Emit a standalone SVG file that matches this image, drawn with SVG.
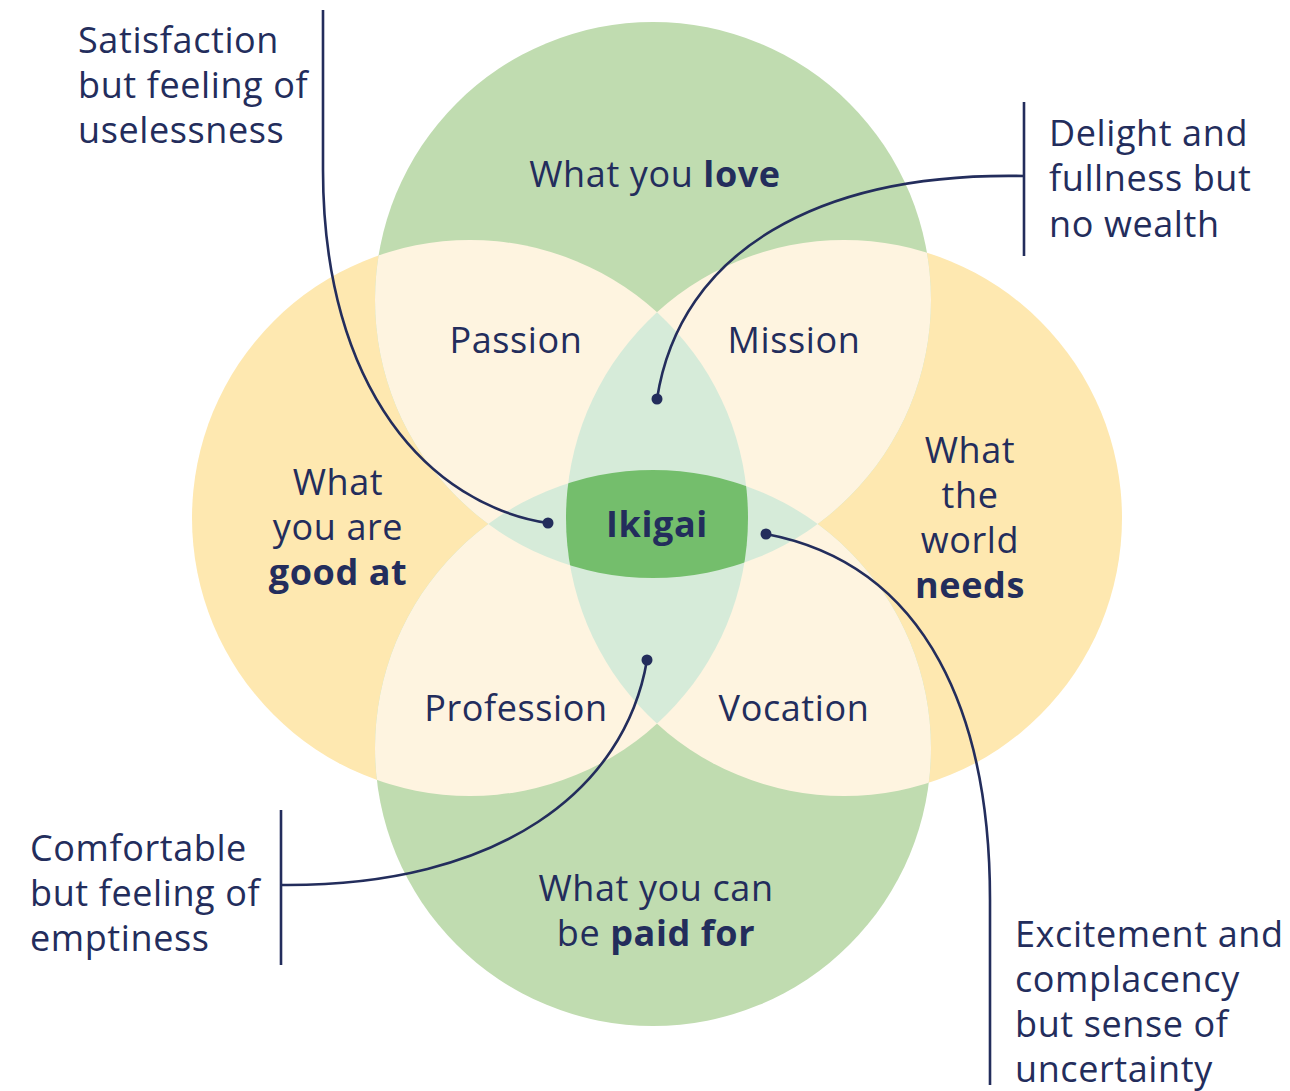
<svg xmlns="http://www.w3.org/2000/svg" width="1290" height="1091" viewBox="0 0 1290 1091">
<style>
text{font-family:"Open Sans","Noto Sans","Liberation Sans",sans-serif;font-size:36px;fill:#232d5c;letter-spacing:0.6px}
.c{text-anchor:middle}
.b{font-weight:700}
.ln{fill:none;stroke:#232d5c;stroke-width:2.6}
.dot{fill:#232d5c}
</style>
<defs>
<clipPath id="cT"><circle cx="653" cy="300" r="278"/></clipPath>
<clipPath id="cB"><circle cx="653" cy="748" r="278"/></clipPath>
<clipPath id="cL"><circle cx="470" cy="518" r="278"/></clipPath>
<clipPath id="cR"><circle cx="844" cy="518" r="278"/></clipPath>
</defs>
<rect width="1290" height="1091" fill="#ffffff"/>
<g id="circles">
<circle cx="470" cy="518" r="278" fill="#fee8b0"/>
<circle cx="844" cy="518" r="278" fill="#fee8b0"/>
<circle cx="653" cy="300" r="278" fill="#c0dcb0"/>
<circle cx="653" cy="748" r="278" fill="#c0dcb0"/>
</g>
<g id="overlaps">
<g clip-path="url(#cT)">
<circle cx="470" cy="518" r="278" fill="#fef4e0"/>
<circle cx="844" cy="518" r="278" fill="#fef4e0"/>
</g>
<g clip-path="url(#cB)">
<circle cx="470" cy="518" r="278" fill="#fef4e0"/>
<circle cx="844" cy="518" r="278" fill="#fef4e0"/>
</g>
<circle cx="844" cy="518" r="278" fill="#d6ebd9" clip-path="url(#cL)"/>
<circle cx="653" cy="748" r="278" fill="#d6ebd9" clip-path="url(#cT)"/>
<g clip-path="url(#cL)"><g clip-path="url(#cR)"><g clip-path="url(#cT)">
<circle cx="653" cy="748" r="278" fill="#74be6c"/>
</g></g></g>
</g>
<g id="node-love"><text class="c" x="655" y="187">What you <tspan class="b">love</tspan></text></g>
<g id="node-passion"><text class="c" x="516" y="353">Passion</text></g>
<g id="node-mission"><text class="c" x="794" y="353">Mission</text></g>
<g id="node-good"><text class="c" x="338" y="495">What</text><text class="c" x="338" y="540">you are</text><text class="c b" x="338" y="585">good at</text></g>
<g id="node-needs"><text class="c" x="970" y="463">What</text><text class="c" x="970" y="508">the</text><text class="c" x="970" y="553">world</text><text class="c b" x="970" y="598">needs</text></g>
<g id="node-ikigai"><text class="c b" x="657" y="537">Ikigai</text></g>
<g id="node-profession"><text class="c" x="516" y="721">Profession</text></g>
<g id="node-vocation"><text class="c" x="794" y="721">Vocation</text></g>
<g id="node-paid"><text class="c" x="656" y="901">What you can</text><text class="c" x="656" y="946">be <tspan class="b">paid for</tspan></text></g>
<g id="note-satisfaction"><text x="78" y="53">Satisfaction</text><text x="78" y="98">but feeling of</text><text x="78" y="143">uselessness</text></g>
<g id="note-delight"><text x="1049" y="146">Delight and</text><text x="1049" y="191">fullness but</text><text x="1049" y="237">no wealth</text></g>
<g id="note-comfortable"><text x="30" y="861">Comfortable</text><text x="30" y="906">but feeling of</text><text x="30" y="951">emptiness</text></g>
<g id="note-excitement"><text x="1015" y="947">Excitement and</text><text x="1015" y="992">complacency</text><text x="1015" y="1037">but sense of</text><text x="1015" y="1082">uncertainty</text></g>
<g id="connectors">
<path class="ln" d="M323,10 L323,170 C323,390 430,505 548,523"/>
<circle class="dot" cx="548" cy="523" r="5.5"/>
<path class="ln" d="M1024,102 L1024,256 M1024,176 C820,172 680,250 657,399"/>
<circle class="dot" cx="657" cy="399" r="5.5"/>
<path class="ln" d="M281,810 L281,965 M281,885 C500,887 625,790 647,660"/>
<circle class="dot" cx="647" cy="660" r="5.5"/>
<path class="ln" d="M766,534 C930,565 990,720 990,900 L990,1085"/>
<circle class="dot" cx="766" cy="534" r="5.5"/>
</g>
</svg>
